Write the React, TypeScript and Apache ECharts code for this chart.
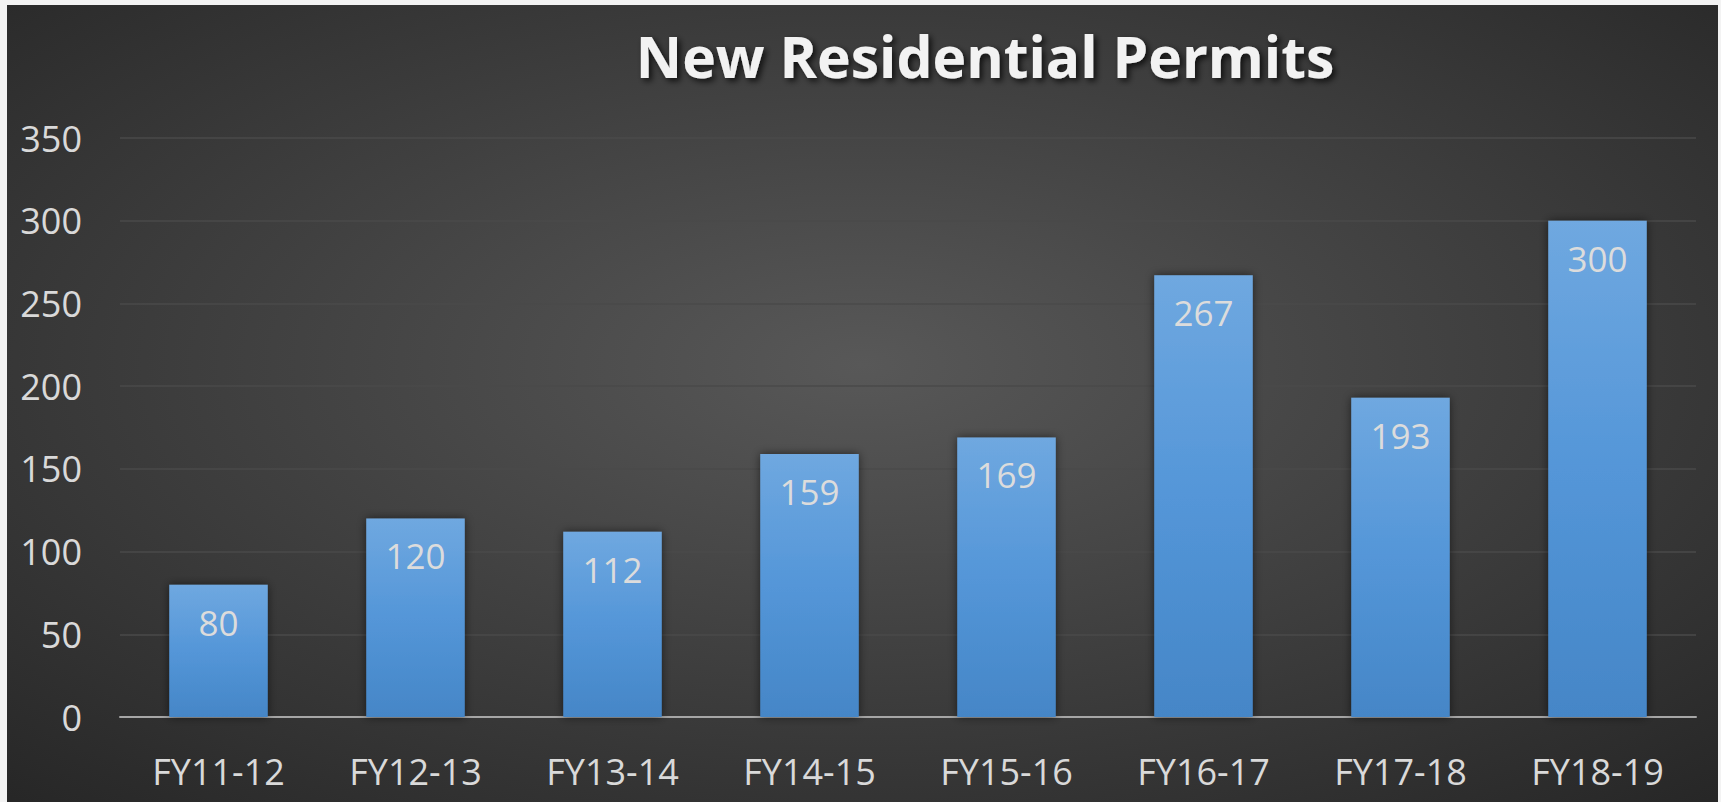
import React, { useEffect, useRef } from "react";
import * as echarts from "echarts";

const categories = ["FY11-12", "FY12-13", "FY13-14", "FY14-15", "FY15-16", "FY16-17", "FY17-18", "FY18-19"];
const permits = [80, 120, 112, 159, 169, 267, 193, 300];
const titleText = "New Residential Permits";

export default function App() {
  const ref = useRef<HTMLDivElement>(null);
  useEffect(() => {
    if (!ref.current) return;
    const chart = echarts.init(ref.current, undefined, { renderer: "svg" });
    const font = "'Open Sans', 'Noto Sans', sans-serif";
    chart.setOption({
      animation: false,
      backgroundColor: "#f3f3f3",
      graphic: [
        {
          type: "rect",
          z: -10,
          silent: true,
          shape: { x: 7, y: 5, width: 1711, height: 800 },
          style: {
            fill: new echarts.graphic.RadialGradient(0.5, 0.45, 0.75, [
              { offset: 0, color: "#585858" },
              { offset: 1, color: "#262626" },
            ]),
          },
        },
      ],
      title: {
        text: titleText,
        left: 980,
        top: 22,
        textAlign: "center",
        textStyle: {
          fontFamily: font,
          fontWeight: "bold",
          fontSize: 57,
          color: "#f2f2f2",
          textShadowColor: "rgba(0,0,0,0.75)",
          textShadowBlur: 6,
          textShadowOffsetX: 3,
          textShadowOffsetY: 3,
        },
      },
      grid: { left: 120, right: 25, top: 138, bottom: 85 },
      xAxis: {
        type: "category",
        data: categories,
        axisTick: { show: false },
        axisLine: { lineStyle: { color: "#a6a6a6", width: 2 } },
        axisLabel: { color: "#d9d9d9", fontSize: 36, fontFamily: font, margin: 36 },
      },
      yAxis: {
        type: "value",
        min: 0,
        max: 350,
        interval: 50,
        axisLine: { show: false },
        axisTick: { show: false },
        splitLine: { lineStyle: { color: "#4a4a4a", width: 1.5 } },
        axisLabel: { color: "#d9d9d9", fontSize: 36, fontFamily: font, margin: 38 },
      },
      series: [
        {
          type: "bar",
          data: permits,
          barWidth: "50%",
          itemStyle: {
            color: new echarts.graphic.LinearGradient(0, 0, 0, 1, [
              { offset: 0, color: "#6fa8e0" },
              { offset: 0.5, color: "#5496d8" },
              { offset: 1, color: "#4586c7" },
            ]),
            shadowColor: "rgba(0,0,0,0.55)",
            shadowBlur: 10,
          },
          label: {
            show: true,
            position: "insideTop",
            distance: 20,
            color: "#dcdcdc",
            fontSize: 35,
            fontFamily: font,
          },
        },
      ],
    });
    return () => chart.dispose();
  }, []);
  return (
    <div style={{ position: "absolute", left: 0, top: 0, width: 1721, height: 802 }}>
      <div ref={ref} style={{ width: 1721, height: 802 }} />
    </div>
  );
}
